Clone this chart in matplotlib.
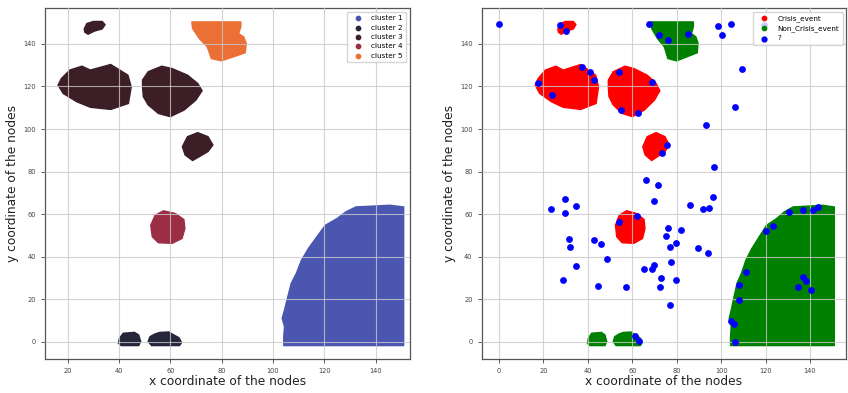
import matplotlib
matplotlib.use("Agg")
import matplotlib.pyplot as plt

# blob outlines (x list, y list)
c1_main_x = [104.2, 150.9, 150.9, 145.6, 139.0, 132.3, 128.4, 125.0, 120.4, 117.1, 113.8, 111.1, 109.1, 107.1, 105.8, 104.5, 103.6, 104.5, 104.2]
c1_main_y = [-1.7, -1.7, 63.4, 64.2, 63.8, 63.4, 61.1, 58.0, 54.8, 49.4, 43.9, 38.4, 32.2, 27.5, 21.3, 15.0, 11.1, 7.2, 2.5]

c2_a_x = [39.8, 40.2, 41.7, 46.1, 47.7, 48.5, 47.7, 40.9]
c2_a_y = [-0.6, 1.7, 4.1, 4.5, 3.3, 0.2, -1.7, -1.7]
c2_b_x = [51.4, 52.1, 54.1, 56.0, 59.4, 61.4, 63.4, 64.4, 63.6, 52.7]
c2_b_y = [0.2, 2.5, 3.8, 4.5, 4.7, 3.3, 2.0, -0.3, -1.7, -1.7]

c3_small_x = [26.5, 27.5, 30.0, 33.5, 34.6, 33.5, 30.5, 28.0, 26.7]
c3_small_y = [147.0, 149.5, 150.5, 150.5, 149.0, 147.0, 146.0, 144.5, 145.5]
c3_left_x = [16.3, 17.6, 20.9, 25.6, 28.9, 36.8, 43.5, 44.8, 43.7, 36.8, 28.9, 23.6, 18.3]
c3_left_y = [120.6, 123.7, 127.7, 129.5, 127.7, 130.3, 125.3, 119.8, 112.0, 109.2, 110.2, 112.8, 116.7]
c3_mid_x = [49.2, 51.4, 56.7, 60.7, 66.7, 70.7, 72.4, 70.0, 65.4, 60.0, 55.4, 51.4, 49.5, 49.2]
c3_mid_y = [123.0, 126.9, 129.5, 128.4, 125.3, 121.4, 118.0, 113.6, 108.9, 105.8, 107.3, 111.3, 115.2, 119.8]
c3_low_x = [64.7, 66.7, 70.7, 74.7, 76.6, 74.7, 71.3, 68.7, 65.8]
c3_low_y = [91.7, 96.4, 98.3, 96.4, 92.5, 89.4, 87.0, 85.2, 87.8]

c4_x = [52.4, 54.1, 57.4, 62.0, 65.3, 65.7, 64.6, 60.7, 55.4, 53.0]
c4_y = [54.8, 59.5, 61.6, 60.3, 57.5, 53.3, 48.6, 46.3, 46.6, 49.4]

c5_x = [68.4, 87.5, 87.5, 86.6, 88.6, 89.6, 89.2, 84.6, 79.9, 76.0, 74.4, 71.3, 68.7]
c5_y = [150.3, 150.3, 148.0, 144.8, 143.3, 140.2, 135.8, 133.9, 132.0, 133.1, 138.6, 142.5, 147.2]

# unlabelled nodes ("?")
q_x = [0, 27.4, 30.3, 17.7, 23.7, 37.5, 41.1, 42.6, 53.8, 68.8, 54.7, 62.7, 67.6, 72.1, 75.9, 84.9,
       98.6, 100.4, 104.2, 119.3, 109.3, 106.0, 93.2, 75.4, 73.3, 96.7, 66.3, 71.5, 96.5,
       23.2, 29.5, 29.5, 34.6, 31.7, 31.8, 34.5, 29.0, 42.6, 45.7, 48.4, 44.4, 57.0, 53.8, 61.9,
       69.9, 65.4, 68.8, 69.6, 73.0, 72.3, 76.9, 77.5, 79.8, 75.0, 76.2, 76.8, 79.6, 81.8, 85.9,
       91.7, 94.4, 89.5, 94.2, 111.1, 107.8, 108.2, 104.6, 105.8, 106.0, 120.2, 123.2, 130.6,
       136.7, 141.2, 143.5, 134.6, 136.9, 138.2, 140.3, 61.0, 62.8]
q_y = [149.2, 149.0, 146.0, 121.4, 115.9, 128.9, 126.7, 123.1, 126.7, 122.2, 108.9, 107.3, 149.2, 144.1, 141.6, 144.5,
       148.3, 144.2, 149.2, 149.0, 128.3, 110.4, 102.1, 92.3, 88.7, 82.1, 76.0, 73.8, 68.2,
       62.4, 67.0, 60.5, 63.7, 48.2, 44.7, 35.5, 29.0, 47.7, 45.8, 38.9, 26.3, 26.0, 56.5, 59.3,
       66.3, 34.3, 34.1, 36.0, 30.2, 25.8, 17.2, 37.4, 29.0, 49.6, 53.6, 44.7, 46.6, 52.4, 64.3,
       62.6, 63.0, 44.3, 41.8, 32.7, 26.9, 19.6, 10.0, 8.4, 0.0, 51.9, 54.6, 61.0,
       62.1, 61.8, 63.2, 26.0, 30.4, 28.8, 24.4, 2.7, 0.6]

cluster_names = ["cluster 1", "cluster 2", "cluster 3", "cluster 4", "cluster 5"]
cluster_colors = ["#4a56b0", "#26263a", "#3c1f26", "#9b2d45", "#ea7035"]
cluster_shapes = [
    [(c1_main_x, c1_main_y)],
    [(c2_a_x, c2_a_y), (c2_b_x, c2_b_y)],
    [(c3_small_x, c3_small_y), (c3_left_x, c3_left_y), (c3_mid_x, c3_mid_y), (c3_low_x, c3_low_y)],
    [(c4_x, c4_y)],
    [(c5_x, c5_y)],
]
# crisis (red) / non crisis (green) per cluster
cluster_event = ["Non_Crisis_event", "Non_Crisis_event", "Crisis_event", "Crisis_event", "Non_Crisis_event"]
event_colors = {"Crisis_event": "#ff0000", "Non_Crisis_event": "#008000"}

fig = plt.figure(figsize=(8.48, 3.93), dpi=100)
ax1 = fig.add_axes([0.053, 0.0865, 0.430, 0.893])
ax2 = fig.add_axes([0.568, 0.0865, 0.430, 0.893])

def style(ax):
    ax.grid(True, color="#c8c8c8", lw=0.8, alpha=0.8)
    ax.set_axisbelow(False)
    for sp in ax.spines.values():
        sp.set_color("#555555")
        sp.set_linewidth(0.9)
    ax.tick_params(labelsize=4.8, colors="#444444", length=3, width=0.6)
    ax.set_xlabel("x coordinate of the nodes", fontsize=8.8, color="#222222", labelpad=1)
    ax.set_ylabel("y coordinate of the nodes", fontsize=8.8, color="#222222", labelpad=3)
    ax.set_ylim(-8, 156.8)

# left: clusters
for name, col, shapes in zip(cluster_names, cluster_colors, cluster_shapes):
    for xs, ys in shapes:
        ax1.fill(xs, ys, color=col, lw=1.0, ec=col, zorder=1)
    ax1.scatter([], [], color=col, s=12, label=name)
ax1.set_xlim(11.2, 153.2)
style(ax1)
ax1.legend(loc="upper right", fontsize=5.2, markerscale=0.9, handletextpad=0.8,
           borderpad=0.5, labelspacing=0.45)

# right: events
for ev, col, shapes in zip(cluster_event, cluster_colors, cluster_shapes):
    for xs, ys in shapes:
        c = event_colors[ev]
        ax2.fill(xs, ys, color=c, lw=1.0, ec=c, zorder=1)
ax2.scatter([], [], color=event_colors["Crisis_event"], s=12, label="Crisis_event")
ax2.scatter([], [], color=event_colors["Non_Crisis_event"], s=12, label="Non_Crisis_event")
ax2.scatter(q_x, q_y, color="#0000ff", s=15, zorder=3, label="?")
ax2.set_xlim(-7.8, 156.3)
style(ax2)
ax2.legend(loc="upper right", fontsize=5.2, markerscale=0.9, handletextpad=0.8,
           borderpad=0.5, labelspacing=0.45)

fig.savefig("out.png", dpi=100)
